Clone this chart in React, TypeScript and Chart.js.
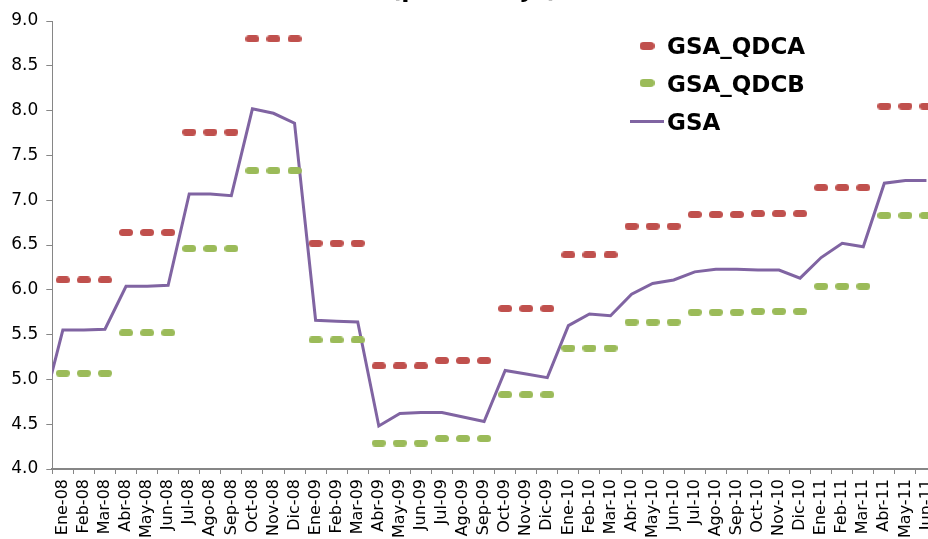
import React, { useEffect, useRef } from 'react';
import { Chart, registerables } from 'chart.js';

Chart.register(...registerables);

const months = [
  'Ene-08', 'Feb-08', 'Mar-08', 'Abr-08', 'May-08', 'Jun-08', 'Jul-08', 'Ago-08', 'Sep-08', 'Oct-08', 'Nov-08', 'Dic-08',
  'Ene-09', 'Feb-09', 'Mar-09', 'Abr-09', 'May-09', 'Jun-09', 'Jul-09', 'Ago-09', 'Sep-09', 'Oct-09', 'Nov-09', 'Dic-09',
  'Ene-10', 'Feb-10', 'Mar-10', 'Abr-10', 'May-10', 'Jun-10', 'Jul-10', 'Ago-10', 'Sep-10', 'Oct-10', 'Nov-10', 'Dic-10',
  'Ene-11', 'Feb-11', 'Mar-11', 'Abr-11', 'May-11', 'Jun-11',
];

const gsaQdca = [
  6.11, 6.11, 6.11, 6.64, 6.64, 6.64, 7.76, 7.76, 7.76, 8.80, 8.80, 8.80,
  6.52, 6.52, 6.52, 5.15, 5.15, 5.15, 5.21, 5.21, 5.21, 5.79, 5.79, 5.79,
  6.39, 6.39, 6.39, 6.71, 6.71, 6.71, 6.84, 6.84, 6.84, 6.85, 6.85, 6.85,
  7.14, 7.14, 7.14, 8.05, 8.05, 8.05,
];

const gsaQdcb = [
  5.07, 5.07, 5.07, 5.52, 5.52, 5.52, 6.46, 6.46, 6.46, 7.33, 7.33, 7.33,
  5.44, 5.44, 5.44, 4.29, 4.29, 4.29, 4.34, 4.34, 4.34, 4.83, 4.83, 4.83,
  5.35, 5.35, 5.35, 5.64, 5.64, 5.64, 5.75, 5.75, 5.75, 5.76, 5.76, 5.76,
  6.04, 6.04, 6.04, 6.83, 6.83, 6.83,
];

// value of the month before Ene-08 (its segment enters the plot from the left edge)
const gsaPrevious = 4.63;

const gsa = [
  5.55, 5.55, 5.56, 6.04, 6.04, 6.05, 7.07, 7.07, 7.05, 8.02, 7.97, 7.86,
  5.66, 5.65, 5.64, 4.48, 4.62, 4.63, 4.63, 4.58, 4.53, 5.10, 5.06, 5.02,
  5.60, 5.73, 5.71, 5.95, 6.07, 6.11, 6.20, 6.23, 6.23, 6.22, 6.22, 6.13,
  6.36, 6.52, 6.48, 7.19, 7.22, 7.22,
];

const titleText = '(porcentaje)';

const RED = '#C0504D';
const GREEN = '#9BBB59';
const PURPLE = '#8064A2';
const AXIS = '#868686';
const FONT = "'DejaVu Sans', 'Verdana', sans-serif";

function makePill(color: string, w: number, h: number) {
  const c = document.createElement('canvas');
  c.width = w;
  c.height = h;
  const ctx = c.getContext('2d')!;
  ctx.fillStyle = color;
  const r = h / 2;
  ctx.beginPath();
  ctx.moveTo(r, 0);
  ctx.lineTo(w - r, 0);
  ctx.arc(w - r, r, r, -Math.PI / 2, Math.PI / 2);
  ctx.lineTo(r, h);
  ctx.arc(r, r, r, Math.PI / 2, (3 * Math.PI) / 2);
  ctx.closePath();
  ctx.fill();
  return c;
}

export default function App() {
  const ref = useRef<HTMLCanvasElement | null>(null);

  useEffect(() => {
    if (!ref.current) return;
    const redPill = makePill(RED, 14, 7);
    const greenPill = makePill(GREEN, 14, 7);
    const redLegend = makePill(RED, 15, 8);
    const greenLegend = makePill(GREEN, 15, 8);

    const overlay = {
      id: 'overlay',
      afterDraw(chart: any) {
        const ctx = chart.ctx;
        ctx.save();
        // title (mostly above the visible area)
        ctx.fillStyle = '#000';
        ctx.font = `bold 24px ${FONT}`;
        ctx.textAlign = 'center';
        ctx.textBaseline = 'alphabetic';
        ctx.fillText(titleText, 466, 6);

        // legend
        ctx.drawImage(redLegend, 639 - 7.5, 55 - 4);
        ctx.drawImage(greenLegend, 639 - 7.5, 92 - 4);
        ctx.strokeStyle = PURPLE;
        ctx.lineWidth = 3;
        ctx.beginPath();
        ctx.moveTo(622, 130.5);
        ctx.lineTo(656, 130.5);
        ctx.stroke();
        ctx.font = `bold 23px ${FONT}`;
        ctx.textAlign = 'left';
        ctx.fillStyle = '#000';
        ctx.fillText('GSA_QDCA', 659, 63);
        ctx.fillText('GSA_QDCB', 659, 100.5);
        ctx.fillText('GSA', 659, 139);
        ctx.restore();
      },
    };

    const chart = new Chart(ref.current, {
      type: 'line',
      data: {
        labels: months,
        datasets: [
          {
            label: 'GSA_QDCA',
            data: gsaQdca,
            showLine: false,
            pointStyle: redPill as any,
            pointRadius: 4,
            borderColor: RED,
            backgroundColor: RED,
            xAxisID: 'x',
            yAxisID: 'y',
          },
          {
            label: 'GSA_QDCB',
            data: gsaQdcb,
            showLine: false,
            pointStyle: greenPill as any,
            pointRadius: 4,
            borderColor: GREEN,
            backgroundColor: GREEN,
            xAxisID: 'x',
            yAxisID: 'y',
          },
          {
            label: 'GSA',
            data: [{ x: -1, y: gsaPrevious }, ...gsa.map((v, i) => ({ x: i, y: v }))] as any,
            borderColor: PURPLE,
            backgroundColor: PURPLE,
            borderWidth: 3,
            pointRadius: 0,
            tension: 0,
            xAxisID: 'xl',
            yAxisID: 'y',
          } as any,
        ],
      },
      options: {
        responsive: false,
        animation: false,
        events: [],
        layout: { padding: { top: 30, right: 21, bottom: 0, left: 0 } },
        plugins: {
          legend: { display: false },
          tooltip: { enabled: false },
          title: { display: false },
        },
        scales: {
          x: {
            type: 'category',
            offset: true,
            position: 'bottom',
            border: { display: true, color: AXIS, width: 2 },
            grid: { display: true, offset: true, drawOnChartArea: false, drawTicks: true, tickLength: 5, color: AXIS },
            ticks: {
              autoSkip: false,
              maxRotation: 90,
              minRotation: 90,
              padding: 5,
              color: '#000',
              font: { family: FONT, size: 16 },
            },
            afterFit: (s: any) => { s.height = 80; },
          },
          xl: {
            type: 'linear',
            display: false,
            min: -0.5,
            max: 41.5,
            offset: false,
          },
          y: {
            type: 'linear',
            min: 4,
            max: 9,
            border: { display: true, color: AXIS, width: 1 },
            grid: { display: true, drawOnChartArea: false, drawTicks: true, tickLength: 6, color: AXIS },
            ticks: {
              stepSize: 0.5,
              padding: 8,
              color: '#000',
              font: { family: FONT, size: 17 },
              callback: (v: any) => Number(v).toFixed(1),
            },
            afterFit: (s: any) => { s.width = 44.3; },
          },
        },
      } as any,
      plugins: [overlay],
    });
    return () => chart.destroy();
  }, []);

  return (
    <div style={{ position: 'fixed', left: 0, top: 0, width: '100vw', height: '100vh', overflow: 'hidden', background: '#fff' }}>
      <canvas ref={ref} width={950} height={558} style={{ position: 'absolute', left: 8, top: -9 }} />
    </div>
  );
}
